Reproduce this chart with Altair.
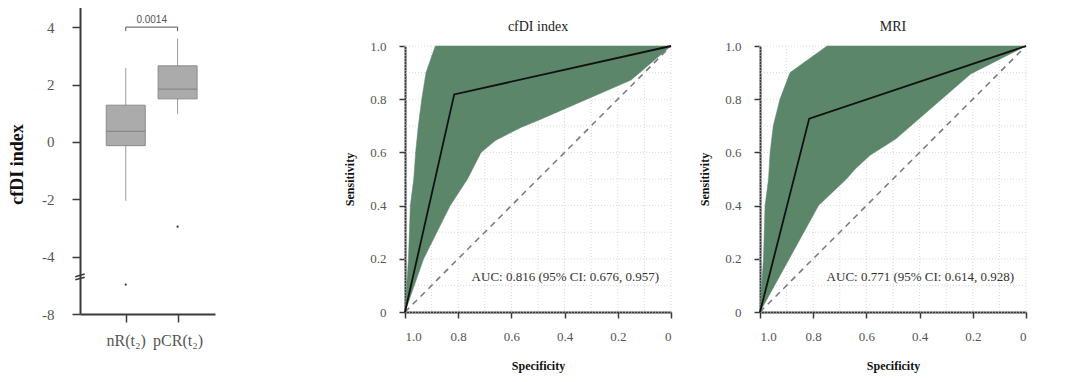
import altair as alt
import pandas as pd

# ---------------- Box plot data ----------------
groups = ["nR(t₂)", "pCR(t₂)"]
group_pos = [1, 2]
q1 = [-0.13, 1.50]
median = [0.37, 1.84]
q3 = [1.28, 2.65]
whisker_lo = [-2.05, 0.97]
whisker_hi = [2.57, 3.60]
outlier_pos = [1, 2]
outlier_val = [-5.5, -2.95]
p_value = "0.0014"
p_level = 4.0
box_yticks = [-8, -4, -2, 0, 2, 4]

# ---------------- ROC data ----------------
roc_titles = ["cfDI index", "MRI"]
auc_labels = ["AUC: 0.816 (95% CI: 0.676, 0.957)",
              "AUC: 0.771 (95% CI: 0.614, 0.928)"]

cfdi_curve_spec = [1.0, 0.815, 0.0]
cfdi_curve_sens = [0.0, 0.818, 1.0]
cfdi_upper_spec = [1.0, 0.987, 0.980, 0.967, 0.960, 0.950, 0.937, 0.921, 0.886, 0.0]
cfdi_upper_sens = [0.0, 0.2, 0.4, 0.5, 0.6, 0.7, 0.8, 0.9, 1.0, 1.0]
cfdi_lower_spec = [0.0, 0.15, 0.489, 0.564, 0.66, 0.714, 0.765, 0.83, 0.93, 1.0]
cfdi_lower_sens = [1.0, 0.872, 0.725, 0.694, 0.645, 0.60, 0.5, 0.4, 0.2, 0.0]

mri_curve_spec = [1.0, 0.815, 0.0]
mri_curve_sens = [0.0, 0.727, 1.0]
mri_upper_spec = [1.0, 0.987, 0.981, 0.968, 0.962, 0.950, 0.925, 0.887, 0.748, 0.0]
mri_upper_sens = [0.0, 0.2, 0.4, 0.5, 0.6, 0.7, 0.8, 0.9, 1.0, 1.0]
mri_lower_spec = [0.0, 0.208, 0.49, 0.585, 0.642, 0.675, 0.78, 1.0]
mri_lower_sens = [1.0, 0.895, 0.65, 0.59, 0.538, 0.5, 0.4, 0.0]

chance_spec = [1.0, 0.0]
chance_sens = [0.0, 1.0]
grid_vals = [0.0, 0.1, 0.2, 0.3, 0.4, 0.5, 0.6, 0.7, 0.8, 0.9, 1.0]
roc_ticks = [0.0, 0.2, 0.4, 0.6, 0.8, 1.0]
auc_pos = (0.045, 0.13)

SERIF = "Liberation Serif"
AXIS_COLOR = "#3a3a3a"
LABEL_COLOR = "#555555"
GREEN = "#5b8669"
NO_VIEW = alt.ViewBackground(stroke="transparent", strokeWidth=0)

# ---------------- Box plot ----------------
box_df = pd.DataFrame({"pos": group_pos, "group": groups, "q1": q1, "median": median,
                       "q3": q3, "lo": whisker_lo, "hi": whisker_hi})
out_df = pd.DataFrame({"pos": outlier_pos, "val": outlier_val})
bracket_df = pd.DataFrame({"pos": [group_pos[0], group_pos[0], group_pos[1], group_pos[1]],
                           "val": [p_level - 0.14, p_level, p_level, p_level - 0.14],
                           "o": [0, 1, 2, 3]})
ptxt_df = pd.DataFrame({"pos": [sum(group_pos) / 2], "val": [p_level], "t": [p_value]})
break_df = pd.DataFrame({"val": [-4.85]})

BOX_H = 268
bx_scale = alt.Scale(domain=[0.214, 2.625], nice=False, zero=False)
# broken axis: lower segment compressed, top of the axis rises above the ROC plot tops
by_scale = alt.Scale(domain=[-8, -4.6, 4.7], range=[BOX_H, 228, -39], nice=False, zero=False)

label_expr = " : ".join(
    [f"datum.value == {p} ? '{g}'" for p, g in zip(group_pos, groups)]) + " : ''"
bx_axis = alt.Axis(values=group_pos, labelExpr=label_expr, title=None, grid=False,
                   domainColor=AXIS_COLOR, domainWidth=2, tickColor=AXIS_COLOR, tickWidth=1.5,
                   tickSize=8, labelFont=SERIF, labelFontSize=16, labelColor=LABEL_COLOR,
                   labelPadding=10)
by_axis = alt.Axis(values=box_yticks,
                   labelExpr="datum.value < 0 ? '-' + abs(datum.value) : '' + datum.value",
                   title="cfDI index", grid=False,
                   domainColor=AXIS_COLOR, domainWidth=2, tickColor=AXIS_COLOR, tickWidth=1.5,
                   tickSize=8, labelFont=SERIF, labelFontSize=15, labelColor=LABEL_COLOR,
                   labelPadding=18, titleFont=SERIF, titleFontSize=18, titleFontWeight="bold",
                   titleColor="#111111", titlePadding=15, titleY=118)

bx = alt.X("pos:Q", scale=bx_scale, axis=bx_axis)


def BY(f):
    return alt.Y(f, scale=by_scale, axis=by_axis)


whisk = alt.Chart(box_df).mark_rule(color="#9a9a9a", strokeWidth=1).encode(
    x=bx, y=BY("lo:Q"), y2="hi:Q")
boxes = alt.Chart(box_df).mark_bar(size=39, color="#ababab", stroke="#8a8a8a",
                                    strokeWidth=1).encode(
    x=bx, y=BY("q1:Q"), y2="q3:Q")
meds = alt.Chart(box_df).mark_tick(orient="horizontal", size=39, thickness=1.3,
                                   color="#7a7a7a").encode(
    x=bx, y=BY("median:Q"))
outs = alt.Chart(out_df).mark_circle(size=5, color="#333333", opacity=1).encode(
    x=bx, y=BY("val:Q"))
bracket = alt.Chart(bracket_df).mark_line(color="#555555", strokeWidth=1).encode(
    x=bx, y=BY("val:Q"), order="o:Q")
ptxt = alt.Chart(ptxt_df).mark_text(font="Liberation Sans", fontSize=10, color="#555555",
                                    dy=-7).encode(
    x=bx, y=BY("val:Q"), text="t:N")
brk = alt.Chart(break_df).mark_point(
    shape="M-0.9,-0.05L0.9,-0.55M-0.9,0.55L0.9,0.05", size=110, filled=False,
    stroke=AXIS_COLOR, strokeWidth=1.5, opacity=1).encode(
    x=alt.value(0), y=BY("val:Q"))

box_chart = alt.layer(whisk, boxes, meds, outs, bracket, ptxt, brk).properties(
    width=135, height=BOX_H, view=NO_VIEW)


# ---------------- ROC panels ----------------
def roc_chart(title, c_spec, c_sens, u_spec, u_sens, l_spec, l_sens, auc):
    xs = alt.Scale(domain=[0, 1], reverse=True, nice=False, zero=False)
    ys = alt.Scale(domain=[0, 1], nice=False, zero=False)
    lab = "datum.value == 0 ? '0' : format(datum.value, '.1f')"
    common = dict(values=roc_ticks, labelExpr=lab, grid=False, domainColor=AXIS_COLOR,
                  domainWidth=2, tickColor=AXIS_COLOR, tickWidth=1.5, tickSize=6,
                  labelFont=SERIF, labelFontSize=13, labelColor=LABEL_COLOR,
                  titleFont=SERIF, titleFontSize=12, titleFontWeight="bold",
                  titleColor="#111111")
    xa = alt.Axis(labelPadding=12, titlePadding=17, **common)
    ya = alt.Axis(labelPadding=13, titlePadding=13, **common)

    def X(f):
        return alt.X(f, scale=xs, axis=xa, title="Specificity")

    def Y(f):
        return alt.Y(f, scale=ys, axis=ya, title="Sensitivity")

    grid_df = pd.DataFrame({"v": grid_vals})
    gx = alt.Chart(grid_df).mark_rule(color="#d8d8d8", strokeDash=[1, 2], strokeWidth=1).encode(
        x=X("v:Q"))
    gy = alt.Chart(grid_df).mark_rule(color="#d8d8d8", strokeDash=[1, 2], strokeWidth=1).encode(
        y=Y("v:Q"))
    poly_df = pd.DataFrame({"spec": u_spec + l_spec, "sens": u_sens + l_sens,
                            "o": list(range(len(u_spec) + len(l_spec)))})
    poly = alt.Chart(poly_df).mark_line(fill=GREEN, stroke=GREEN, strokeWidth=0.5,
                                        interpolate="linear").encode(
        x=X("spec:Q"), y=Y("sens:Q"), order="o:Q")
    diag_df = pd.DataFrame({"spec": chance_spec, "sens": chance_sens})
    diag = alt.Chart(diag_df).mark_line(color="#777777", strokeDash=[6, 5],
                                        strokeWidth=1.5).encode(
        x=X("spec:Q"), y=Y("sens:Q"))
    curve_df = pd.DataFrame({"spec": c_spec, "sens": c_sens, "o": list(range(len(c_spec)))})
    curve = alt.Chart(curve_df).mark_line(color="#111111", strokeWidth=1.8).encode(
        x=X("spec:Q"), y=Y("sens:Q"), order="o:Q")
    txt_df = pd.DataFrame({"spec": [auc_pos[0]], "sens": [auc_pos[1]], "t": [auc]})
    txt = alt.Chart(txt_df).mark_text(align="right", baseline="middle", font=SERIF,
                                      fontSize=13, color="#333333").encode(
        x=X("spec:Q"), y=Y("sens:Q"), text="t:N")
    return alt.layer(gx, gy, poly, diag, curve, txt).properties(
        width=266, height=266, view=NO_VIEW,
        title=alt.TitleParams(text=title, font=SERIF, fontSize=14,
                              fontWeight="normal", color="#222222",
                              offset=6, anchor="middle"))


roc1 = roc_chart(roc_titles[0], cfdi_curve_spec, cfdi_curve_sens, cfdi_upper_spec,
                 cfdi_upper_sens, cfdi_lower_spec, cfdi_lower_sens, auc_labels[0])
roc2 = roc_chart(roc_titles[1], mri_curve_spec, mri_curve_sens, mri_upper_spec,
                 mri_upper_sens, mri_lower_spec, mri_lower_sens, auc_labels[1])

rocs = alt.hconcat(roc1, roc2, spacing=23)
chart = alt.hconcat(box_chart, rocs, spacing=128).properties(
    padding={"left": 0, "top": 7, "right": 0, "bottom": 6}
).configure_view(stroke="transparent", strokeWidth=0).configure_axis(
    labelFont=SERIF, titleFont=SERIF).configure(background="white", font=SERIF)

chart.save("out.html", embed_options={"renderer": "svg", "actions": False})
